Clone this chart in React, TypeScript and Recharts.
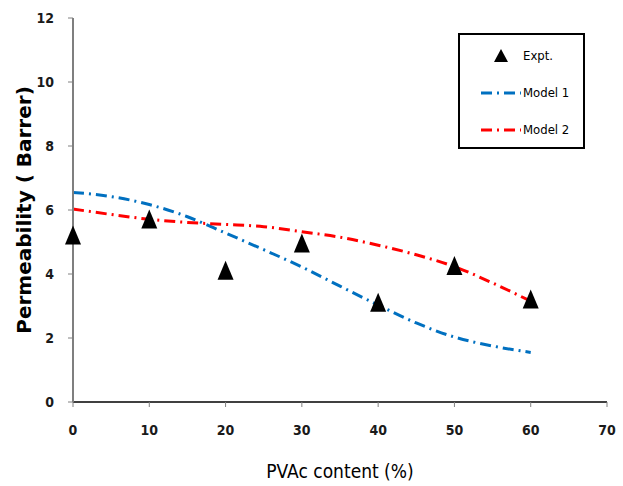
import React from 'react';
import {
  ComposedChart,
  Line,
  Scatter,
  XAxis,
  YAxis,
  Legend,
  Label
} from 'recharts';

const xTicks = [0, 10, 20, 30, 40, 50, 60, 70];
const yTicks = [0, 2, 4, 6, 8, 10, 12];

const exptX = [0, 10, 20, 30, 40, 50, 60];
const exptY = [5.2, 5.7, 4.1, 4.95, 3.1, 4.25, 3.2];

const modelX = [0, 5, 10, 15, 20, 25, 30, 35, 40, 45, 50, 55, 60];
const model1 = [6.55, 6.42, 6.17, 5.79, 5.28, 4.76, 4.22, 3.62, 3.03, 2.47, 2.03, 1.75, 1.55];
const model2 = [6.03, 5.86, 5.71, 5.61, 5.55, 5.48, 5.32, 5.15, 4.9, 4.6, 4.23, 3.72, 3.15];

const exptData = exptX.map((x, i) => ({ x, y: exptY[i] }));
const model1Data = modelX.map((x, i) => ({ x, y: model1[i] }));
const model2Data = modelX.map((x, i) => ({ x, y: model2[i] }));

const BLUE = '#0070C0';
const RED = '#FF0000';
const DASH = '11 5 2 5';
const narrow = "'DejaVu Sans Condensed', 'Liberation Sans', sans-serif";

const Triangle = (props: any) => {
  const { cx, cy } = props;
  if (cx == null || cy == null) return null;
  return (
    <polygon
      points={`${cx},${cy - 10} ${cx - 8},${cy + 9} ${cx + 8},${cy + 9}`}
      fill="#000"
    />
  );
};

const LegendBox = () => {
  const row: React.CSSProperties = { display: 'flex', alignItems: 'center', height: 37 };
  return (
    <div
      style={{
        width: 127,
        height: 116,
        boxSizing: 'border-box',
        border: '2px solid #000',
        background: '#fff',
        padding: '2px 0 0 20px',
        fontFamily: narrow,
        fontSize: 13,
        color: '#000'
      }}
    >
      <div style={row}>
        <svg width={42} height={20}>
          <polygon points="21,3 14,16 28,16" fill="#000" />
        </svg>
        <span style={{ marginLeft: 1 }}>Expt.</span>
      </div>
      <div style={row}>
        <svg width={42} height={20}>
          <line x1={1} y1={10} x2={41} y2={10} stroke={BLUE} strokeWidth={3} strokeDasharray={DASH} />
        </svg>
        <span style={{ marginLeft: 1 }}>Model 1</span>
      </div>
      <div style={row}>
        <svg width={42} height={20}>
          <line x1={1} y1={10} x2={41} y2={10} stroke={RED} strokeWidth={3} strokeDasharray={DASH} />
        </svg>
        <span style={{ marginLeft: 1 }}>Model 2</span>
      </div>
    </div>
  );
};

const App: React.FC = () => {
  const tickStyle = { fill: '#1a1a1a', fontSize: 14, fontWeight: 700, fontFamily: narrow };
  return (
    <div style={{ position: 'absolute', left: 0, top: 0, width: 623, height: 486, background: '#fff' }}>
      <ComposedChart
        width={623}
        height={486}
        margin={{ top: 18, right: 16, bottom: 54, left: 13 }}
      >
        <XAxis
          xAxisId="bottom"
          dataKey="x"
          type="number"
          domain={[0, 70]}
          ticks={xTicks}
          allowDuplicatedCategory={false}
          height={30}
          tick={tickStyle}
          tickSize={5}
          tickMargin={18}
          axisLine={{ stroke: '#404040', strokeWidth: 2 }}
          tickLine={{ stroke: '#808080' }}
        >
          <Label
            value="PVAc content (%)"
            position="bottom"
            offset={33}
            style={{ fontFamily: narrow, fontSize: 19, fill: '#000' }}
          />
        </XAxis>
        <XAxis
          xAxisId="top"
          orientation="top"
          type="number"
          domain={[0, 70]}
          height={0}
          tick={false}
          tickLine={false}
          axisLine={{ stroke: '#808080', strokeWidth: 2 }}
        />
        <YAxis
          yAxisId="left"
          type="number"
          domain={[0, 12]}
          ticks={yTicks}
          width={60}
          tick={tickStyle}
          tickSize={5}
          tickMargin={14}
          axisLine={{ stroke: '#7f7f7f', strokeWidth: 2 }}
          tickLine={{ stroke: '#808080' }}
        >
          <Label
            value="Permeability ( Barrer)"
            angle={-90}
            position="insideLeft"
            offset={11}
            dy={0}
            style={{ textAnchor: 'middle', fontFamily: "'DejaVu Sans', sans-serif", fontWeight: 700, fontSize: 20, fill: '#000' }}
          />
        </YAxis>
        <YAxis
          yAxisId="right"
          orientation="right"
          type="number"
          domain={[0, 12]}
          width={0}
          tick={false}
          tickLine={false}
          axisLine={{ stroke: '#000', strokeWidth: 3 }}
        />
        <Legend
          layout="vertical"
          align="center"
          verticalAlign="middle"
          content={LegendBox}
          wrapperStyle={{ left: 458, top: 33, width: 127, height: 116 }}
        />
        <Line
          xAxisId="bottom"
          yAxisId="left"
          data={model1Data}
          dataKey="y"
          type="monotone"
          stroke={BLUE}
          strokeWidth={3}
          strokeDasharray={DASH}
          dot={false}
          activeDot={false}
          isAnimationActive={false}
          name="Model 1"
        />
        <Line
          xAxisId="bottom"
          yAxisId="left"
          data={model2Data}
          dataKey="y"
          type="monotone"
          stroke={RED}
          strokeWidth={3}
          strokeDasharray={DASH}
          dot={false}
          activeDot={false}
          isAnimationActive={false}
          name="Model 2"
        />
        <Scatter
          xAxisId="bottom"
          yAxisId="left"
          data={exptData}
          dataKey="y"
          shape={Triangle}
          isAnimationActive={false}
          name="Expt."
        />
      </ComposedChart>
    </div>
  );
};

export default App;
